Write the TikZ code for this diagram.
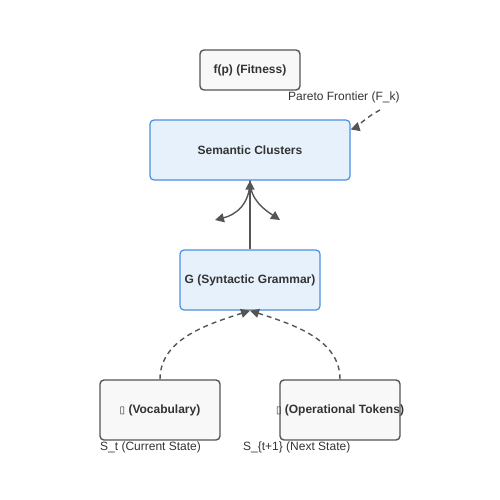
\documentclass[tikz,border=0pt]{standalone}
\usepackage{fontspec}
\setmainfont{Liberation Sans}
\newfontfamily\symfont{DejaVu Sans}
\usetikzlibrary{arrows.meta}
\definecolor{txt}{HTML}{333333}
\definecolor{gborder}{HTML}{555555}
\definecolor{gfill}{HTML}{F8F8F8}
\definecolor{bborder}{HTML}{4A90E2}
\definecolor{bfill}{HTML}{E6F1FC}
\definecolor{edge}{HTML}{555555}
\tikzset{
  graybox/.style={draw=gborder, fill=gfill, line width=1.4pt, rounded corners=4pt, inner sep=0pt, text=txt, font=\bfseries\fontsize{12}{14}\selectfont},
  bluebox/.style={draw=bborder, fill=bfill, line width=1.2pt, rounded corners=4pt, inner sep=0pt, text=txt, font=\bfseries\fontsize{12}{14}\selectfont},
  lbl/.style={text=txt, font=\fontsize{12}{14}\selectfont, inner sep=0pt, anchor=west},
  conn/.style={draw=edge, line width=1.4pt, -{Triangle[length=9pt,width=9pt]}},
  dconn/.style={conn, dashed, dash pattern=on 5pt off 4pt},
}
\begin{document}
\begin{tikzpicture}[x=1pt,y=-1pt]
\useasboundingbox (0,0) rectangle (500,500);
\node[graybox, minimum width=100pt, minimum height=40pt] (fit) at (250,70) {f(p) (Fitness)};
\node[bluebox, minimum width=200pt, minimum height=60pt] (sc) at (250,150) {Semantic Clusters};
\node[bluebox, minimum width=140pt, minimum height=60pt] (g) at (250,280) {G (Syntactic Grammar)};
\node[graybox, minimum width=120pt, minimum height=60pt] (voc) at (160,410) {{\symfont\fontsize{10}{12}\selectfont ▯} (Vocabulary)};
\node[graybox, minimum width=120pt, minimum height=60pt] (op) at (340,410) {\makebox[0pt]{{\symfont\fontsize{10}{12}\selectfont ▯} (Operational Tokens)}};
\node[lbl] (pareto) at (288,97) {Pareto Frontier (F\_k)};
\node[lbl] (st) at (100,447) {S\_t (Current State)};
\node[lbl] (st1) at (243,447) {S\_\{t+1\} (Next State)};
\coordinate (pa) at (380,110);
\coordinate (l1) at (215,220);
\coordinate (r1) at (280,220);
\draw[dconn] (pa) .. controls (365,118) and (355,128) .. ([yshift=-10pt]sc.north east);
\draw[conn] (g.north) -- (sc.south);
\draw[conn] (sc.south) .. controls (250,205) and (235,215) .. (l1);
\draw[conn] (sc.south) .. controls (250,200) and (265,210) .. (r1);
\draw[dconn] (voc.north) .. controls (160,340) and (205,325) .. (g.south);
\draw[dconn] (op.north) .. controls (340,340) and (295,325) .. (g.south);
\end{tikzpicture}
\end{document}
